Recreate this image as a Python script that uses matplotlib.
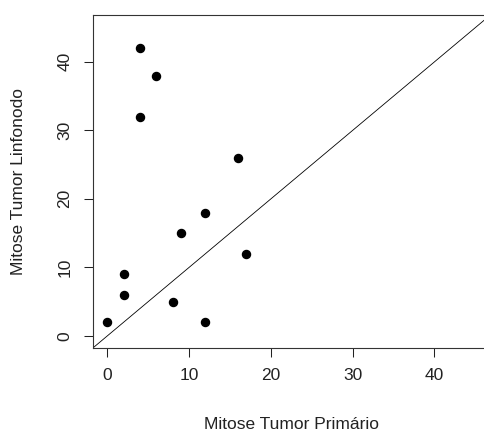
import matplotlib
matplotlib.use("Agg")
import matplotlib.pyplot as plt
import numpy as np

plt.rcParams['font.family'] = ['Liberation Sans', 'DejaVu Sans']

# dados: mitoses no tumor primario vs linfonodo
primario = [0, 2, 2, 4, 4, 6, 8, 9, 12, 12, 16, 17]
linfonodo = [2, 6, 9, 42, 32, 38, 5, 15, 18, 2, 26, 12]
ticks = [0, 10, 20, 30, 40]

fig = plt.figure(figsize=(4.85, 4.32), dpi=100)
ax = fig.add_axes([0.191, 0.194, 0.8194, 0.7706])

ax.plot(primario, linfonodo, 'o', color='black', markersize=5.8, zorder=3)

# linha identidade y = x
ax.axline((0, 0), slope=1, color='black', lw=0.6)

ax.set_xlim(-1.8, 46.8)
ax.set_ylim(-1.8, 46.8)
ax.set_xticks(ticks)
ax.set_yticks(ticks)
ax.set_yticklabels([str(t) for t in ticks], rotation=90, va='center')
ax.tick_params(direction='out', length=6.5, width=0.75, labelsize=12.5,
               colors='#222222', pad=8)

for s in ax.spines.values():
    s.set_linewidth(0.8)
    s.set_color('#333333')

ax.set_xlabel('Mitose Tumor Primário', fontsize=12.5, color='#222222', va='center')
ax.set_ylabel('Mitose Tumor Linfonodo', fontsize=12.5, color='#222222', va='center')
ax.xaxis.set_label_coords(0.5, -0.228)
ax.yaxis.set_label_coords(-0.187, 0.5)

fig.savefig('out.png', dpi=100)
